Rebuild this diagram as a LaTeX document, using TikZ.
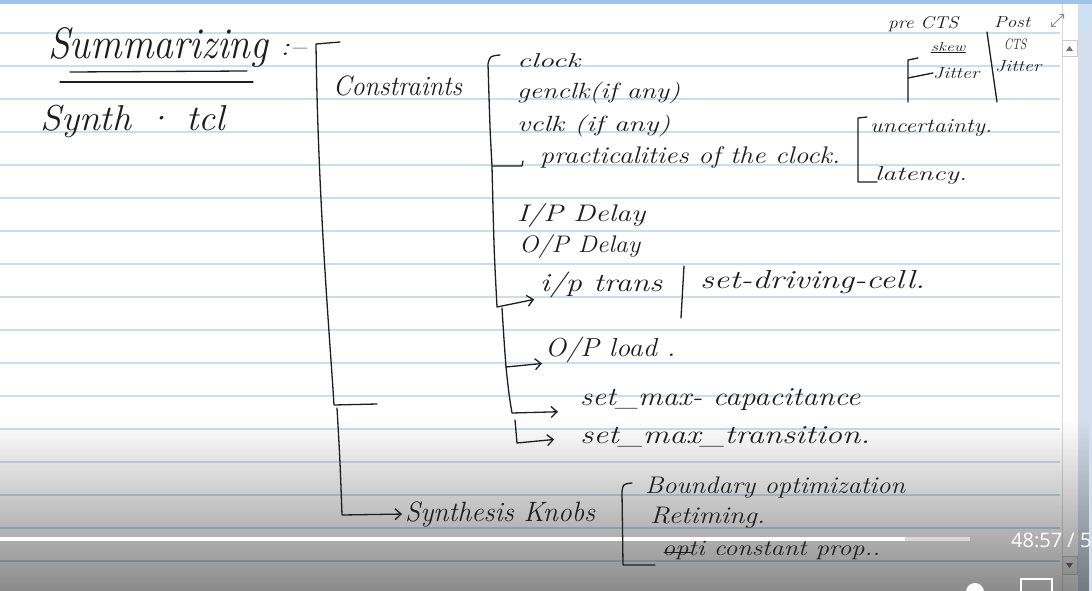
\documentclass[tikz,border=0pt]{standalone}
\usepackage{fontspec}
\usepackage{graphicx}
\newfontfamily\uifont{Open Sans}
\usetikzlibrary{arrows.meta,fadings,calc}
\tikzfading[name=fadedown, top color=transparent!100, bottom color=transparent!0]
\definecolor{topbar}{HTML}{9DC3E6}
\definecolor{ruled}{HTML}{C9DFEE}
\definecolor{panel}{HTML}{D3DFEC}
\definecolor{inkc}{HTML}{1E1E1E}
\newcommand\hw[3]{\resizebox{#2pt}{\height}{\fontsize{#1}{#1}\selectfont\itshape #3}}
\begin{document}
\begin{tikzpicture}[x=1pt,y=-1pt,
  ink/.style={line width=1.3pt, line cap=round, line join=round, inkc},
  arr/.style={ink, -{Straight Barb[length=6pt,width=11pt]}},
  txt/.style={inner sep=0pt, anchor=west, text=inkc},
  ruleline/.style={ruled, line width=1.1pt}]
\useasboundingbox (0,0) rectangle (1092,591);
\clip (0,0) rectangle (1092,591);
% paper
\fill[white] (0,0) rectangle (1092,591);
\fill[topbar] (0,0) rectangle (1092,4);
\foreach \y in {33,66,...,580} \draw[ruleline] (0,\y) -- (1060,\y);
% scrollbar and side panel
\fill[panel] (1078,4) rectangle (1092,591);
\fill[topbar!50] (1078,4) rectangle (1092,28);
\draw[black!15] (1062,4) -- (1062,591);
\draw[black!20, fill=white] (1062,40) rectangle (1077,56);
\fill[black!55] (1066,51) -- (1073,51) -- (1069.5,46) -- cycle;
\draw[black!20, fill=black!5] (1062,556) rectangle (1077,574);
\fill[black!55] (1066,563) -- (1073,563) -- (1069.5,568) -- cycle;
% expand icon
\coordinate (ex1) at (1051,27);
\coordinate (ex2) at (1064,14);
\draw[black!45, line width=0.8pt, {Straight Barb[length=3pt]}-{Straight Barb[length=3pt]}] (ex1) -- (ex2);
% bottom video overlay
\fill[black, path fading=fadedown, fill opacity=0.46] (0,420) rectangle (1092,591);
% progress bar
\fill[white!70!gray] (905,536.5) rectangle (970,541);
\fill[white] (0,536.5) rectangle (905,541);
\node[inner sep=0pt, anchor=west, text=white, font=\uifont\fontsize{20}{20}\selectfont] (time) at (1011,540) {48:57 / 5};
% bottom icons
\fill[white] (975,592) circle (9);
\draw[white, line width=2pt] (1021,579) rectangle (1052,596);

% ---------- texts ----------
\node[txt] (summ) at (48,48) {\hw{44}{220}{Summarizing}};
\node[txt] (colon) at (280,50) {\hw{26}{26}{:--}};
\node[txt] (synth) at (40,122) {\hw{36}{185}{Synth · tcl}};
\node[txt] (cons) at (333,86) {\hw{28}{129}{Constraints}};
\node[txt] (clock) at (517,61) {\hw{20}{63}{clock}};
\node[txt] (gen) at (517,93) {\hw{22}{163}{genclk(if any)}};
\node[txt] (vclk) at (517,126) {\hw{22}{153}{vclk (if any)}};
\node[txt] (prac) at (540,157) {\hw{24}{300}{practicalities of the clock.}};
\node[txt] (unc) at (870,128) {\hw{20}{122}{uncertainty.}};
\node[txt] (lat) at (875,176) {\hw{20}{92}{latency.}};
\node[txt] (pre) at (888,24) {\hw{17}{70}{pre CTS}};
\node[txt] (skew) at (931,47) {\hw{13}{34}{skew}};
\node[txt] (jit1) at (933,73) {\hw{16}{46}{Jitter}};
\node[txt] (post) at (994,22) {\hw{16}{36}{Post}};
\node[txt] (cts) at (1004,44) {\hw{15}{22}{CTS}};
\node[txt] (jit2) at (995,66) {\hw{16}{46}{Jitter}};
\node[txt] (ipd) at (517,215) {\hw{24}{128}{I/P Delay}};
\node[txt] (opd) at (519,246) {\hw{24}{121}{O/P Delay}};
\node[txt] (ipt) at (540,285) {\hw{26}{122}{i/p trans}};
\node[txt] (sdc) at (700,282) {\hw{26}{225}{set-driving-cell.}};
\node[txt] (opl) at (545,350) {\hw{26}{130}{O/P load .}};
\node[txt] (smc) at (580,400) {\hw{26}{280}{set\_max- capacitance}};
\node[txt] (smt) at (580,437) {\hw{26}{290}{set\_max\_transition.}};
\node[txt] (knobs) at (405,514) {\hw{28}{190}{Synthesis Knobs}};
\node[txt] (bopt) at (645,488) {\hw{24}{260}{Boundary optimization}};
\node[txt] (ret) at (650,518) {\hw{24}{115}{Retiming.}};
\node[txt] (ocp) at (662,550) {\hw{22}{218}{opti constant prop..}};

% ---------- strokes ----------
% title double underline
\draw[ink] ($(summ.west)+(22,24)$) -- ($(summ.west)+(199,23)$);
\draw[ink] ($(summ.west)+(12,34)$) -- ($(summ.west)+(205,34)$);
% skew underline
\draw[ink, line width=1pt] ($(skew.south west)+(0,1)$) -- ($(skew.south east)+(0,1)$);
% big bracket
\coordinate (bigtop) at (340,42);
\coordinate (bigmid) at (334,405);
\coordinate (bigtick) at (377,404);
\draw[ink] (bigtop) -- (316,44) .. controls (318,200) and (330,340) .. (bigmid) -- (bigtick);
\draw[arr, shorten >=3pt] (337,408) .. controls (340,460) .. (342,515) -- (knobs.west);
% constraints bracket
\coordinate (ctop) at (500,55);
\coordinate (cmid) at (492,166);
\draw[ink] (ctop) .. controls (490,56) .. (488,64) .. controls (490,130) .. (cmid) -- (522,166) -- (523,161);
\draw[arr, shorten >=6pt] (cmid) .. controls (494,250) .. (497,307) -- (ipt.south west);
\draw[arr, shorten >=3pt] (502,308) .. controls (504,340) .. (506,367) -- (opl.south west);
\draw[arr, shorten >=22pt] (506,367) .. controls (509,395) .. (512,413) -- (smc.south west);
\draw[arr, shorten >=26pt] (515,420) -- (517,443) -- (smt.west);
% divider between i/p trans and set-driving-cell
\coordinate (dv1) at (684,266);
\coordinate (dv2) at (681,318);
\draw[ink] (dv1) -- (dv2);
% uncertainty / latency bracket
\draw[ink] (867,117) -- (858,118) -- (858,182) -- (877,182);
% pre CTS bracket
\draw[ink] (918,58) -- (908,60) -- (908,102);
\draw[ink] (908,78) -- (jit1.west);
% pre / post divider
\coordinate (sl1) at (987,32);
\coordinate (sl2) at (997,102);
\draw[ink] (sl1) -- (sl2);
% synthesis knobs bracket
\draw[ink] (632,483) .. controls (623,484) .. (622,492) -- (623,565) -- (655,565);
% strike under Opt
\draw[ink, line width=1pt] ($(ocp.west)+(2,2)$) -- ($(ocp.west)+(30,2)$);
\end{tikzpicture}
\end{document}
